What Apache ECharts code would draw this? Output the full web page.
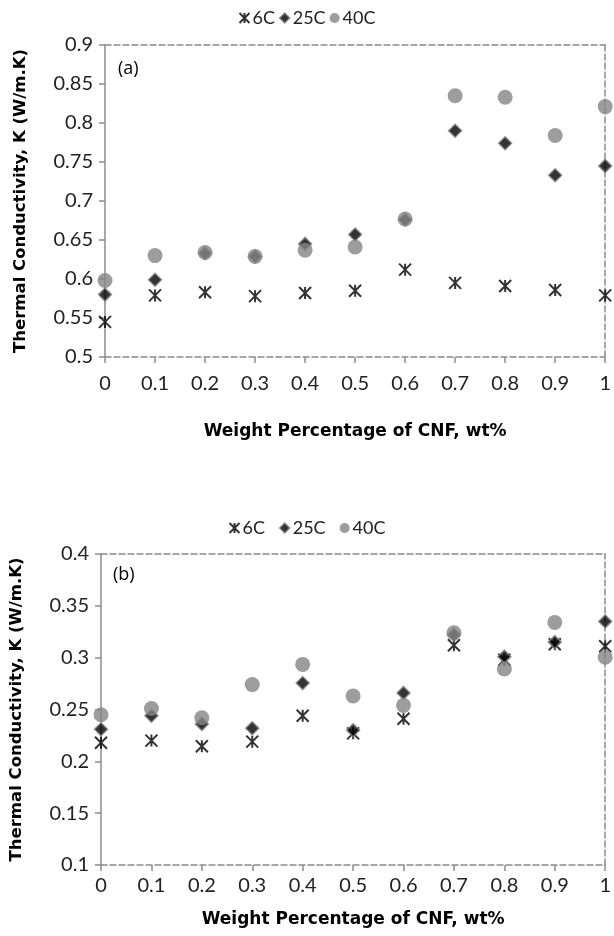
<!DOCTYPE html>
<html>
<head>
<meta charset="utf-8">
<script src="https://cdn.jsdelivr.net/npm/echarts@6/dist/echarts.min.js"></script>
<style>
  html, body { margin: 0; padding: 0; background: #fff; }
  #chart { width: 614px; height: 936px; }
</style>
</head>
<body>
<div id="chart"></div>
<script>
// weight percentage of CNF (wt%)
const wt = [0, 0.1, 0.2, 0.3, 0.4, 0.5, 0.6, 0.7, 0.8, 0.9, 1];

// panel (a)
const k6a = [0.545, 0.579, 0.583, 0.578, 0.582, 0.585, 0.612, 0.595, 0.591, 0.586, 0.579];
const k25a = [0.580, 0.599, 0.633, 0.629, 0.645, 0.657, 0.676, 0.790, 0.774, 0.733, 0.745];
const k40a = [0.598, 0.630, 0.634, 0.629, 0.637, 0.641, 0.677, 0.835, 0.833, 0.784, 0.821];

// panel (b)
const k6b = [0.218, 0.220, 0.2145, 0.219, 0.244, 0.227, 0.241, 0.312, 0.298, 0.313, 0.311];
const k25b = [0.231, 0.244, 0.236, 0.232, 0.2755, 0.230, 0.266, 0.322, 0.301, 0.315, 0.335];
const k40b = [0.245, 0.251, 0.242, 0.274, 0.2935, 0.263, 0.254, 0.324, 0.289, 0.334, 0.3005];

const seriesNames = ['6C', '25C', '40C'];

const chart = echarts.init(document.getElementById('chart'));

const axisGray = '#8c8c8c';
const tickFont = 'Lato';
const titleFont = 'DejaVu Sans';

const pair = ys => wt.map((x, i) => [x, ys[i]]);
const starPath = 'path://M0,0L10,10M10,0L0,10M5,0L5,10';

const styles = {
	'6C': { symbol: starPath, symbolSize: 12, itemStyle: { color: 'rgba(0,0,0,0)', borderColor: '#000', borderWidth: 2 } },
	'25C': { symbol: 'diamond', symbolSize: 13, itemStyle: { color: '#000', borderColor: '#808080', borderWidth: 1.5 } },
	'40C': { symbol: 'circle', symbolSize: 15, itemStyle: { color: '#848484' } }
};

const makeSeries = (name, ys, idx) => ({
	name,
	type: 'scatter',
	xAxisIndex: idx * 2,
	yAxisIndex: idx * 2,
	data: pair(ys),
	symbol: styles[name].symbol,
	symbolSize: styles[name].symbolSize,
	itemStyle: styles[name].itemStyle,
	clip: false,
	emphasis: { disabled: true }
});

const bottomX = (gridIndex, labelMargin, nameGap) => ({
	type: 'value', gridIndex, min: 0, max: 1, interval: 0.1,
	name: 'Weight Percentage of CNF, wt%', nameLocation: 'middle', nameGap,
	nameTextStyle: { fontFamily: titleFont, fontWeight: 'bold', fontSize: 17, color: '#000' },
	axisLine: { lineStyle: { color: axisGray, type: 'dashed', width: 1.5 } },
	axisTick: { show: true, length: 6, lineStyle: { color: axisGray, width: 1.5 } },
	axisLabel: { margin: labelMargin, fontFamily: tickFont, fontSize: 20, color: '#222',
		formatter: v => String(parseFloat(v.toFixed(1))) },
	splitLine: { show: false }
});

const topX = gridIndex => ({
	type: 'value', gridIndex, min: 0, max: 1, position: 'top',
	axisLine: { onZero: false, lineStyle: { color: axisGray, type: 'dashed', width: 1.5 } },
	axisTick: { show: false }, axisLabel: { show: false }, splitLine: { show: false }
});

const leftY = (gridIndex, min, max) => ({
	type: 'value', gridIndex, min, max, interval: 0.05,
	name: 'Thermal Conductivity, K (W/m.K)', nameLocation: 'middle', nameGap: 76,
	nameTextStyle: { fontFamily: titleFont, fontWeight: 'bold', fontSize: 16.5, color: '#000' },
	axisLine: { show: true, lineStyle: { color: axisGray, width: 1.5 } },
	axisTick: { show: true, length: 6, lineStyle: { color: axisGray, width: 1.5 } },
	axisLabel: { margin: 12, fontFamily: tickFont, fontSize: 20, color: '#222',
		formatter: v => String(parseFloat(v.toFixed(2))) },
	splitLine: { show: false }
});

const rightY = (gridIndex, min, max) => ({
	type: 'value', gridIndex, min, max, position: 'right',
	axisLine: { show: true, onZero: false, lineStyle: { color: axisGray, type: 'dashed', width: 1.5 } },
	axisTick: { show: false }, axisLabel: { show: false }, splitLine: { show: false }
});

const legendData = seriesNames.map(n => ({
	name: n,
	icon: n === '6C' ? starPath : styles[n].symbol,
	itemStyle: styles[n].itemStyle
}));

const option = {
	backgroundColor: '#fff',
	animation: false,
	legend: [
		{ top: 4, left: 'center', itemGap: 4, itemWidth: 10, itemHeight: 10, data: legendData,
			textStyle: { fontFamily: tickFont, fontSize: 18, color: '#222', padding: [0, 0, 0, -2] }, selectedMode: false },
		{ top: 514, left: 'center', itemGap: 14, itemWidth: 10, itemHeight: 10, data: legendData,
			textStyle: { fontFamily: tickFont, fontSize: 18, color: '#222', padding: [0, 0, 0, -2] }, selectedMode: false }
	],
	grid: [
		{ left: 105, right: 2, top: 45, height: 312 },
		{ left: 100, right: 2, top: 554, height: 311 }
	],
	xAxis: [bottomX(0, 17, 66), topX(0), bottomX(1, 11, 46), topX(1)],
	yAxis: [leftY(0, 0.5, 0.9), rightY(0, 0.5, 0.9), leftY(1, 0.1, 0.4), rightY(1, 0.1, 0.4)],
	graphic: [
		{ type: 'text', left: 118, top: 60, style: { text: '(a)', fontFamily: 'Open Sans', fontSize: 18, fill: '#000' } },
		{ type: 'text', left: 113, top: 566, style: { text: '(b)', fontFamily: 'Open Sans', fontSize: 18, fill: '#000' } }
	],
	series: [
		makeSeries('6C', k6a, 0),
		makeSeries('25C', k25a, 0),
		makeSeries('40C', k40a, 0),
		makeSeries('6C', k6b, 1),
		makeSeries('25C', k25b, 1),
		makeSeries('40C', k40b, 1)
	]
};

chart.setOption(option);
</script>
</body>
</html>
